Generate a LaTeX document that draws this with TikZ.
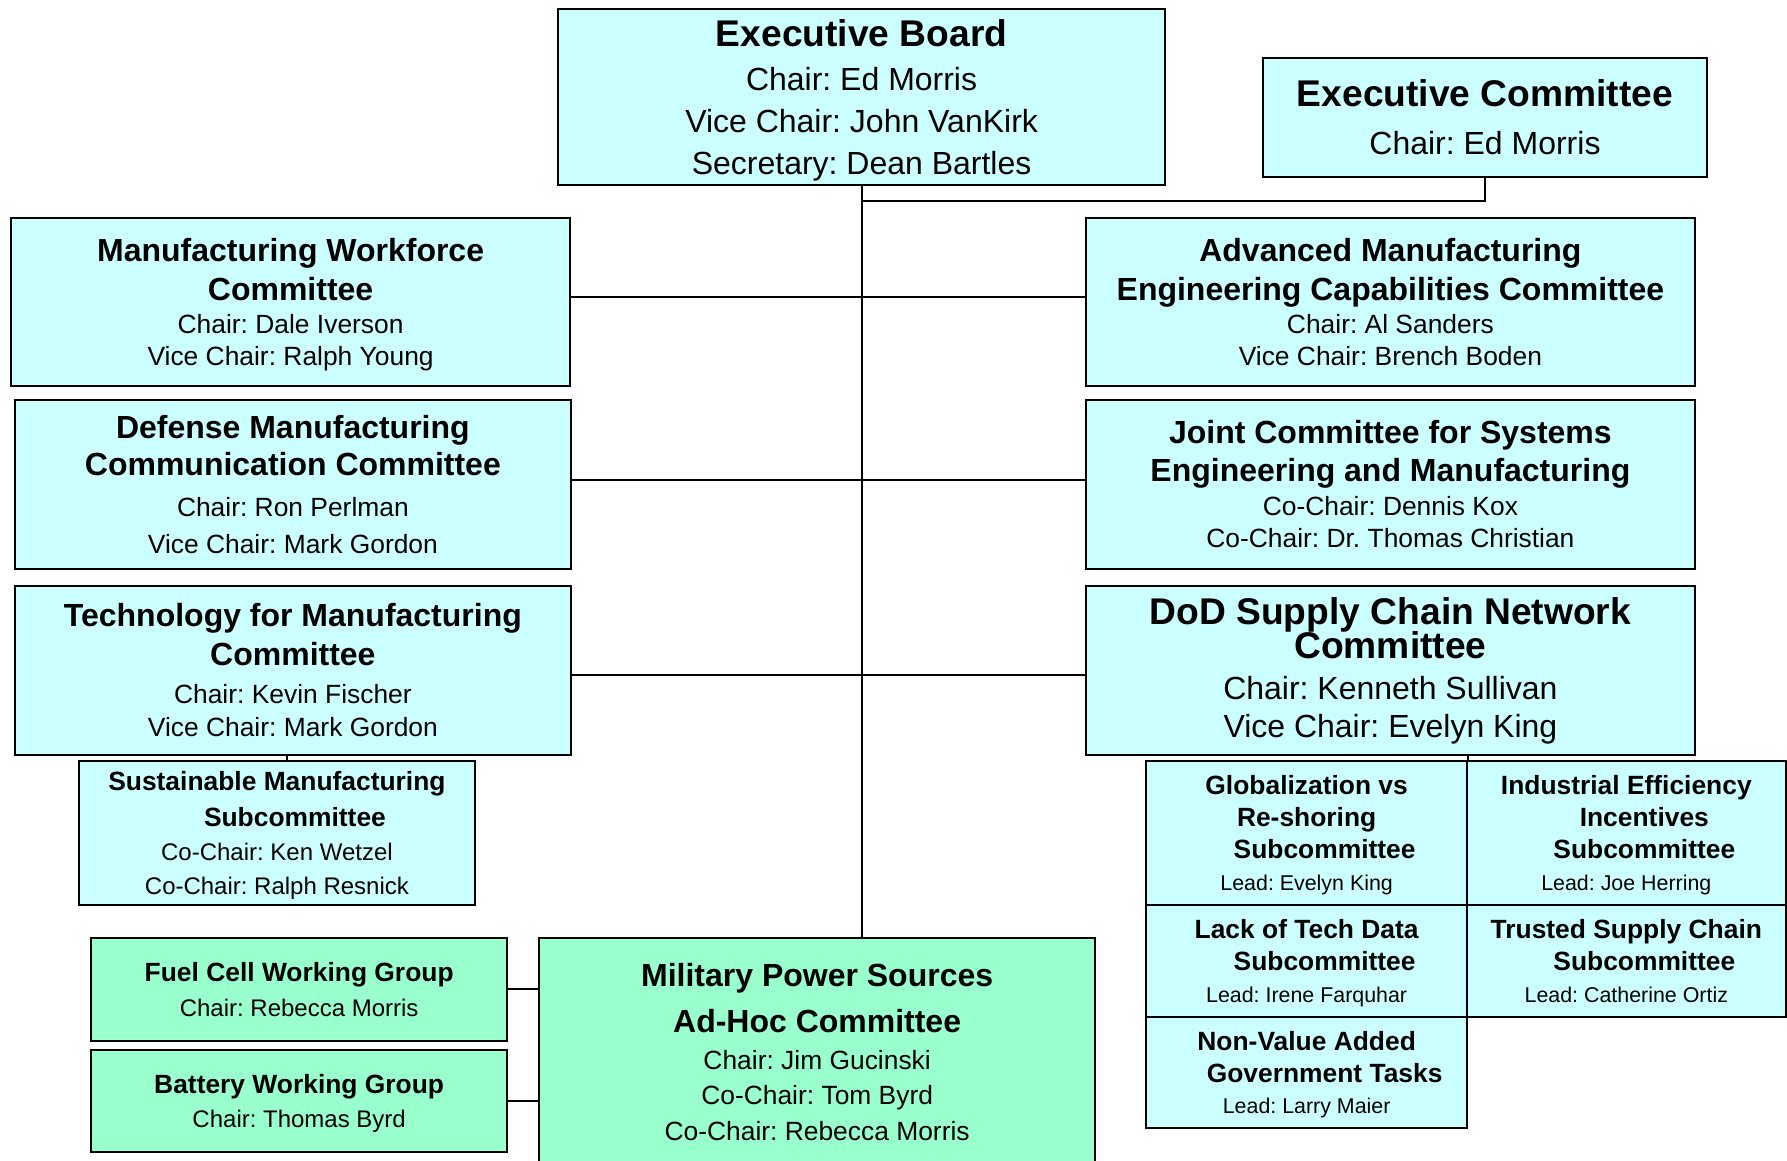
\documentclass[tikz,border=0pt]{standalone}
\usepackage{fontspec}
\setmainfont{Liberation Sans}
\usepackage{tikz}

\definecolor{boxcyan}{HTML}{CCFFFF}
\definecolor{boxgreen}{HTML}{99FFCC}

\newcommand{\ttlbig}[1]{{\fontsize{18.6pt}{18.6pt}\selectfont\bfseries #1}}
\newcommand{\ttlcom}[1]{{\fontsize{16pt}{16pt}\selectfont\bfseries #1}}
\newcommand{\ttlsub}[1]{{\fontsize{13.2pt}{13.2pt}\selectfont\bfseries #1}}
\newcommand{\lnbig}[1]{{\fontsize{16pt}{16pt}\selectfont #1}}
\newcommand{\lncom}[1]{{\fontsize{13.2pt}{13.2pt}\selectfont #1}}
\newcommand{\lnsub}[1]{{\fontsize{12pt}{12pt}\selectfont #1}}
\newcommand{\lnlead}[1]{{\fontsize{10.7pt}{10.7pt}\selectfont #1}}
\newcommand{\pad}{\hspace*{18pt}}
\setlength{\lineskiplimit}{-50pt}
\frenchspacing

\tikzset{
  box/.style={draw, line width=1pt, fill=boxcyan, inner sep=0pt, align=center, text depth=0pt},
  wgbox/.style={box, fill=boxgreen},
  lsp/.style={font=\fontsize{10pt}{#1}\selectfont},
  link/.style={line width=1pt}
}

\begin{document}
\begin{tikzpicture}[x=0.57pt, y=-0.57pt]

\fill[white] (0,0) rectangle (1568,1018);
\useasboundingbox (0,0) rectangle (1568,1018);

\node[box, lsp=21.1pt, minimum width=303.2pt, minimum height=87.8pt] (board) at (756,85)
  {\ttlbig{Executive Board}\\[0.8pt] \lnbig{Chair: Ed Morris}\\ \lnbig{Vice Chair: John VanKirk}\\ \lnbig{Secretary: Dean Bartles}};
\node[box, lsp=24pt, minimum width=222.3pt, minimum height=59.3pt] (excom) at (1303,103)
  {\ttlbig{Executive Committee}\\ \lnbig{Chair: Ed Morris}};

\node[box, lsp=16pt, minimum width=279.3pt, minimum height=84.4pt] (mfgwf) at (255,265)
  {\ttlcom{Manufacturing Workforce}\\[3.4pt] \ttlcom{Committee}\\[0.7pt] \lncom{Chair: Dale Iverson}\\ \lncom{Vice Chair: Ralph Young}};
\node[box, lsp=16pt, minimum width=304.4pt, minimum height=84.4pt] (amecc) at (1220,265)
  {\ttlcom{Advanced Manufacturing}\\[3.4pt] \ttlcom{Engineering Capabilities Committee}\\[0.7pt] \lncom{Chair: Al Sanders}\\ \lncom{Vice Chair: Brench Boden}};

\node[box, lsp=18.8pt, minimum width=278.2pt, minimum height=84.4pt] (dmcc) at (257,425)
  {\ttlcom{Defense Manufacturing}\\ \ttlcom{Communication Committee}\\[1.3pt] \lncom{Chair: Ron Perlman}\\ \lncom{Vice Chair: Mark Gordon}};
\node[box, lsp=16pt, minimum width=304.4pt, minimum height=84.4pt] (jcsem) at (1220,425)
  {\ttlcom{Joint Committee for Systems}\\[2.8pt] \ttlcom{Engineering and Manufacturing}\\[1.2pt] \lncom{Co-Chair: Dennis Kox}\\ \lncom{Co-Chair: Dr. Thomas Christian}};

\node[box, lsp=16.5pt, minimum width=278.2pt, minimum height=84.4pt] (tmc) at (257,588)
  {\ttlcom{Technology for Manufacturing}\\[2.9pt] \ttlcom{Committee}\\[2.5pt] \lncom{Chair: Kevin Fischer}\\ \lncom{Vice Chair: Mark Gordon}};
\node[box, lsp=17.1pt, text depth=2.3pt, minimum width=304.4pt, minimum height=84.4pt] (dod) at (1220,588)
  {\ttlbig{DoD Supply Chain Network}\\ \ttlbig{Committee}\\[3.1pt] \lnbig{Chair: Kenneth Sullivan}\\[2.3pt] \lnbig{Vice Chair: Evelyn King}};

\node[box, lsp=16pt, minimum width=198.4pt, minimum height=71.8pt] (sus) at (243,731)
  {\ttlsub{Sustainable Manufacturing}\\[1.7pt] \ttlsub{\pad Subcommittee}\\[1.1pt] \lnsub{Co-Chair: Ken Wetzel}\\[1pt] \lnsub{Co-Chair: Ralph Resnick}};

\node[box, lsp=16pt, minimum width=160.2pt, minimum height=71.8pt] (glob) at (1146.5,731)
  {\ttlsub{Globalization vs}\\ \ttlsub{Re-shoring}\\ \ttlsub{\pad Subcommittee}\\ \lnlead{Lead: Evelyn King}};
\node[box, lsp=16pt, minimum width=159.6pt, minimum height=71.8pt] (ieff) at (1427,731)
  {\ttlsub{Industrial Efficiency}\\ \ttlsub{\pad Incentives}\\ \ttlsub{\pad Subcommittee}\\ \lnlead{Lead: Joe Herring}};
\node[box, lsp=16pt, minimum width=160.2pt, minimum height=55.9pt] (ltd) at (1146.5,843)
  {\ttlsub{Lack of Tech Data}\\ \ttlsub{\pad Subcommittee}\\ \lnlead{Lead: Irene Farquhar}};
\node[box, lsp=16pt, minimum width=159.6pt, minimum height=55.9pt] (tsc) at (1427,843)
  {\ttlsub{Trusted Supply Chain}\\ \ttlsub{\pad Subcommittee}\\ \lnlead{Lead: Catherine Ortiz}};
\node[box, lsp=16pt, minimum width=160.2pt, minimum height=55.9pt] (nvag) at (1146.5,941)
  {\ttlsub{Non-Value Added}\\ \ttlsub{\pad Government Tasks}\\ \lnlead{Lead: Larry Maier}};

\node[wgbox, lsp=17.2pt, minimum width=208.1pt, minimum height=51.3pt] (fuel) at (262.5,868)
  {\ttlsub{Fuel Cell Working Group}\\ \lnsub{Chair: Rebecca Morris}};
\node[wgbox, lsp=17.2pt, minimum width=208.1pt, minimum height=51.3pt] (batt) at (262.5,966)
  {\ttlsub{Battery Working Group}\\ \lnsub{Chair: Thomas Byrd}};
\node[wgbox, lsp=17.7pt, minimum width=278.2pt, minimum height=114pt] (mps) at (717,923)
  {\ttlcom{Military Power Sources}\\[5.1pt] \ttlcom{Ad-Hoc Committee}\\[0.7pt] \lncom{Chair: Jim Gucinski}\\ \lncom{Co-Chair: Tom Byrd}\\ \lncom{Co-Chair: Rebecca Morris}};

\coordinate (jn) at (756,176);
\draw[link] (board.south) -- (board.south |- mps.north);
\draw[link] (excom.south) |- (jn);
\draw[link] ([yshift=2.3pt]mfgwf.east) -- ([yshift=2.3pt]amecc.west);
\draw[link] ([yshift=2.3pt]dmcc.east) -- ([yshift=2.3pt]jcsem.west);
\draw[link] ([yshift=-2.3pt]tmc.east) -- ([yshift=-2.3pt]dod.west);
\draw[link] ([xshift=5pt]sus.north) -- ([xshift=5pt]sus.north |- tmc.south);
\draw[link] (glob.north east) -- (glob.north east |- dod.south);
\draw[link] (fuel.east) -- (fuel.east -| mps.west);
\draw[link] (batt.east) -- (batt.east -| mps.west);

\end{tikzpicture}
\end{document}
